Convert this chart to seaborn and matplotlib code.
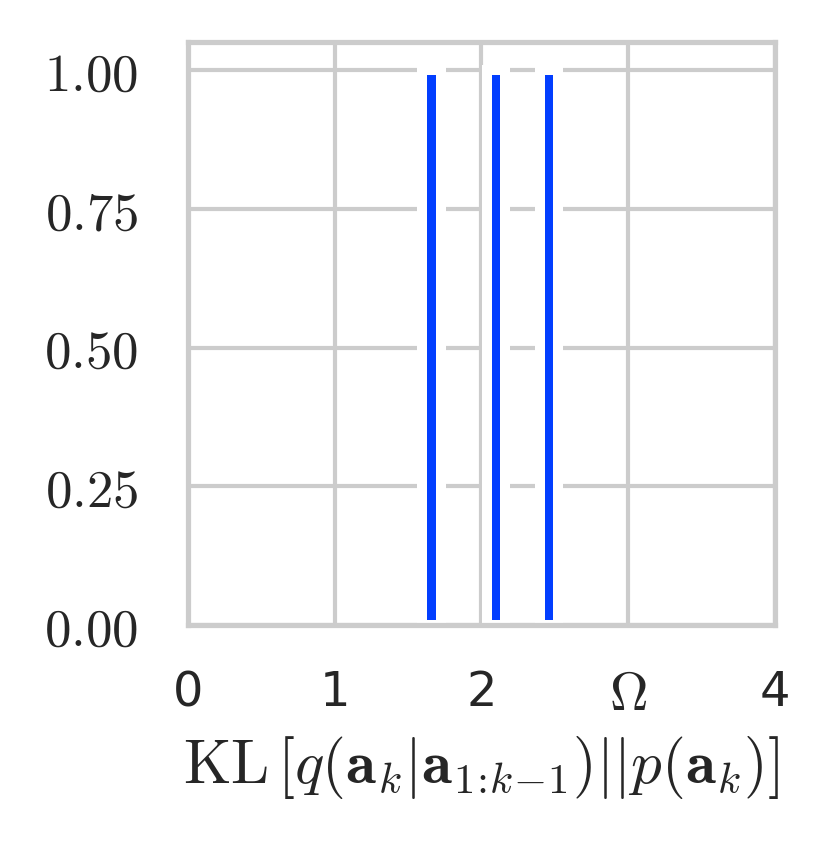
import matplotlib
matplotlib.use("Agg")
import matplotlib.pyplot as plt
import seaborn as sns
import pandas as pd

# KL values of the three active latent groups, and their normalised heights
kl_values = [1.66, 2.10, 2.46]
heights = [1.0, 1.0, 1.0]

x_ticks = [0, 1, 2, 3, 4]
x_tick_labels = ["0", "1", "2", r"$\Omega$", "4"]
y_ticks = [0.0, 0.25, 0.5, 0.75, 1.0]
y_tick_labels = [r"$0.00$", r"$0.25$", r"$0.50$", r"$0.75$", r"$1.00$"]

sns.set_theme(style="whitegrid", context="notebook")
plt.rcParams["mathtext.fontset"] = "cm"

df = pd.DataFrame({"kl": kl_values, "h": heights})

fig = plt.figure(figsize=(831 / 300, 841 / 300), dpi=300)
ax = fig.add_axes([0.2262, 0.2565, 0.9321 - 0.2262, 0.9501 - 0.2565])

sns.barplot(data=df, x="kl", y="h", native_scale=True, width=0.125 / 0.36,
            color="#023eff", saturation=1, edgecolor="white", linewidth=2.4,
            errorbar=None, ax=ax)

ax.set_xlim(0, 4)
ax.set_ylim(0, 1.05)
ax.set_xticks(x_ticks)
ax.set_xticklabels(x_tick_labels, fontsize=11.5)
# the mathtext Omega renders a bit small next to the sans digits
for lab in ax.get_xticklabels():
    if "Omega" in lab.get_text():
        lab.set_fontsize(12.8)
ax.set_yticks(y_ticks)
ax.set_yticklabels(y_tick_labels, fontsize=12.7)
ax.tick_params(axis="x", pad=4.5)
ax.tick_params(axis="y", pad=6)
ax.set_ylabel("")
ax.set_xlabel(r"$\mathrm{KL}\,\left[q(\mathbf{a}_k|\mathbf{a}_{1\!:\!k\!-\!1})||p(\mathbf{a}_k)\right]$",
              fontsize=14.7, labelpad=3)

fig.savefig("out.png", dpi=300)
